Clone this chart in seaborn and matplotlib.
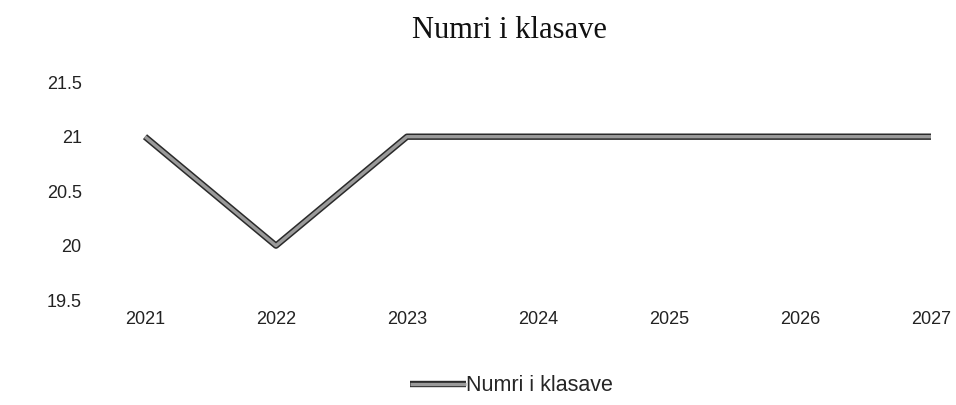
import matplotlib
matplotlib.use("Agg")
import matplotlib.pyplot as plt
import matplotlib.patheffects as pe
import seaborn as sns
import pandas as pd

years = [2021, 2022, 2023, 2024, 2025, 2026, 2027]
klasat = [21, 20, 21, 21, 21, 21, 21]
series_name = "Numri i klasave"

df = pd.DataFrame({"Viti": years, series_name: klasat})

sns.set_style("white")
plt.rcParams["font.family"] = ["Liberation Sans", "DejaVu Sans"]

fig = plt.figure(figsize=(9.56, 4.05), dpi=100)
ax = fig.add_axes([0.10, 0.259, 0.89, 0.538])

outline = [pe.Stroke(linewidth=4.6, foreground="#2a2a2a"), pe.Normal()]
sns.lineplot(data=df, x="Viti", y=series_name, ax=ax, color="#9a9a9a",
             linewidth=2.4, label=series_name)
ax.lines[0].set_path_effects(outline)
ax.lines[0].set_solid_capstyle("butt")

ax.set_xlim(2020.623, 2027.118)
ax.set_ylim(19.5, 21.5)
ax.set_xticks(years)
ax.set_xticklabels([str(y) for y in years])
ax.set_yticks([19.5, 20, 20.5, 21, 21.5])
ax.set_yticklabels(["19.5", "20", "20.5", "21", "21.5"])
ax.tick_params(axis="both", length=0, labelsize=13, colors="#222222")
ax.tick_params(axis="y", pad=10)
ax.tick_params(axis="x", pad=8)
ax.set_xlabel("")
ax.set_ylabel("")
for s in ax.spines.values():
    s.set_visible(False)

fig.text(0.533, 0.925, series_name, ha="center", va="center", fontsize=22,
         family="Liberation Serif", color="#111111")

leg = ax.legend(loc="upper center", bbox_to_anchor=(0.489, -0.255), frameon=False,
                fontsize=15.5, handlelength=2.6, handletextpad=0.0)
for h in leg.get_lines():
    h.set_path_effects(outline)
    h.set_linewidth(2.4)
    h.set_solid_capstyle("butt")

fig.savefig("out.png", dpi=100)
